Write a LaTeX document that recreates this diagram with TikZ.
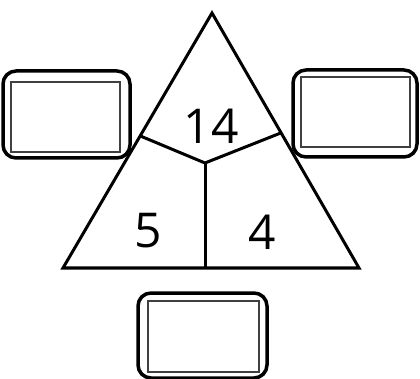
\documentclass[tikz,border=0pt]{standalone}
\usepackage{fontspec}
\setmainfont{Open Sans}
\usetikzlibrary{calc}
\begin{document}
\begin{tikzpicture}[x=1pt,y=-1pt,
  tri/.style={line width=3pt,line join=miter},
  outerbox/.style={draw,line width=3.5pt,rounded corners=13pt},
  innerbox/.style={draw=black!75,line width=1.3pt},
  num/.style={font=\fontsize{48}{52}\selectfont,inner sep=0pt}]
\useasboundingbox (0,0) rectangle (420,379);
% triangle
\coordinate (A) at (212,13);
\coordinate (L) at (63,268);
\coordinate (R) at (359,268);
\coordinate (C) at (205,163);
\coordinate (ML) at ($(L)!0.518!(A)$);
\coordinate (MR) at ($(R)!0.53!(A)$);
\coordinate (MB) at (205,268);
\draw[tri] (A) -- (L) -- (R) -- cycle;
\draw[tri] (ML) -- (C) -- (MR);
\draw[tri] (C) -- (MB);
% numbers
\node[num] (n14) at (211,126) {14};
\node[num] (n5) at (148,231) {5};
\node[num] (n4) at (262,232) {4};
% boxes
\draw[outerbox] (3,71) rectangle (130,158);
\draw[innerbox] (11,82) rectangle (120,152);
\draw[outerbox] (293,70) rectangle (417,157);
\draw[innerbox] (301,77) rectangle (410,147);
\draw[outerbox] (138,293) rectangle (267,378);
\draw[innerbox] (148,301) rectangle (259,372);
\end{tikzpicture}
\end{document}
